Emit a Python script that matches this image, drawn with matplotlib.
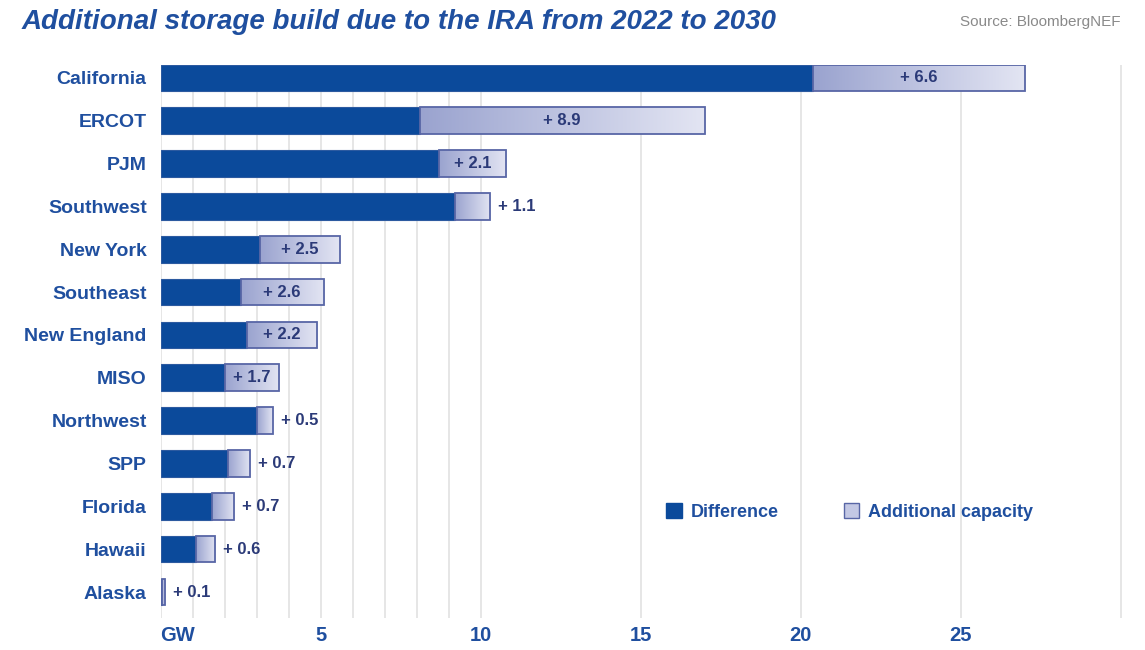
import numpy as np
import matplotlib.pyplot as plt
from matplotlib.colors import LinearSegmentedColormap
from matplotlib.patches import Patch

# 数据
regions = ['California', 'ERCOT', 'PJM', 'Southwest', 'New York', 'Southeast', 'New England',
           'MISO', 'Northwest', 'SPP', 'Florida', 'Hawaii', 'Alaska']
difference = [20.4, 8.1, 8.7, 9.2, 3.1, 2.5, 2.7, 2.0, 3.0, 2.1, 1.6, 1.1, 0.05]
additional = [6.6, 8.9, 2.1, 1.1, 2.5, 2.6, 2.2, 1.7, 0.5, 0.7, 0.7, 0.6, 0.1]
x_ticks = [0, 5, 10, 15, 20, 25, 30]
x_tick_labels = ['GW', '5', '10', '15', '20', '25', '']

DARK = '#0b4a9b'
EDGE = '#5866a6'
TXT = '#1f4f9f'
LBL = '#2b3a78'

plt.rcParams['font.family'] = ['Liberation Sans', 'DejaVu Sans']

fig, ax = plt.subplots(figsize=(11.45, 6.5), dpi=100)
fig.subplots_adjust(left=0.1402, right=0.987, bottom=0.049, top=0.9)

y = np.arange(len(regions))
ax.barh(y, difference, height=0.62, color=DARK, edgecolor='#2c5aa0', linewidth=0.8, zorder=3)
light = ax.barh(y, additional, left=difference, height=0.62, color='none',
                edgecolor=EDGE, linewidth=1.3, zorder=4)

# 渐变填充
cmap = LinearSegmentedColormap.from_list('g', ['#9aa3cf', '#e3e5f3'])
grad = np.linspace(0, 1, 256).reshape(1, -1)
for rect in light:
    x0, y0 = rect.get_x(), rect.get_y()
    w, h = rect.get_width(), rect.get_height()
    im = ax.imshow(grad, cmap=cmap, aspect='auto', extent=(x0, x0 + w, y0 + h, y0), zorder=3.5)
    im.set_clip_path(rect)

# 数值标签
for i in range(len(regions)):
    total = difference[i] + additional[i]
    s = '+ ' + str(additional[i])
    if additional[i] >= 1.5:
        ax.text(difference[i] + additional[i] / 2, i, s, ha='center', va='center',
                fontsize=12, fontweight='bold', color=LBL, zorder=5)
    else:
        ax.text(total + 0.25, i, s, ha='left', va='center',
                fontsize=12, fontweight='bold', color=LBL, zorder=5)

ax.set_xlim(0, 30.3)
ax.set_ylim(12.61, -0.3)
ax.set_yticks(y)
ax.set_yticklabels(regions, fontsize=14, fontweight='bold', color=TXT)
ax.set_xticks(x_ticks)
ax.set_xticklabels(x_tick_labels, fontsize=14.5, fontweight='bold', color=TXT)
ax.get_xticklabels()[0].set_ha('left')
ax.set_xticks(np.arange(1, 10), minor=True)
ax.tick_params(axis='both', which='both', length=0)
ax.tick_params(axis='y', pad=10)
ax.tick_params(axis='x', pad=6)
ax.grid(True, axis='x', which='both', color='#e4e4e4', linewidth=1.3, zorder=0)
for sp in ax.spines.values():
    sp.set_visible(False)

handles = [Patch(facecolor=DARK, edgecolor=DARK, label='Difference'),
           Patch(facecolor='#c3c8e4', edgecolor=EDGE, label='Additional capacity')]
leg = ax.legend(handles=handles, ncol=2, frameon=False, loc='center left',
                bbox_to_anchor=(0.505, 0.192), fontsize=13, handlelength=0.85, handleheight=0.85,
                handletextpad=0.5, columnspacing=3.6)
for t in leg.get_texts():
    t.set_color(TXT)
    t.set_fontweight('bold')

fig.text(22 / 1145, 1 - 22 / 650, 'Additional storage build due to the IRA from 2022 to 2030',
         fontsize=20, fontweight='bold', fontstyle='italic', color=TXT, va='center', ha='left')
fig.text(1120 / 1145, 1 - 22 / 650, 'Source: BloombergNEF', fontsize=11, color='#8a8a8a',
         va='center', ha='right')

plt.savefig('out.png', dpi=100)
